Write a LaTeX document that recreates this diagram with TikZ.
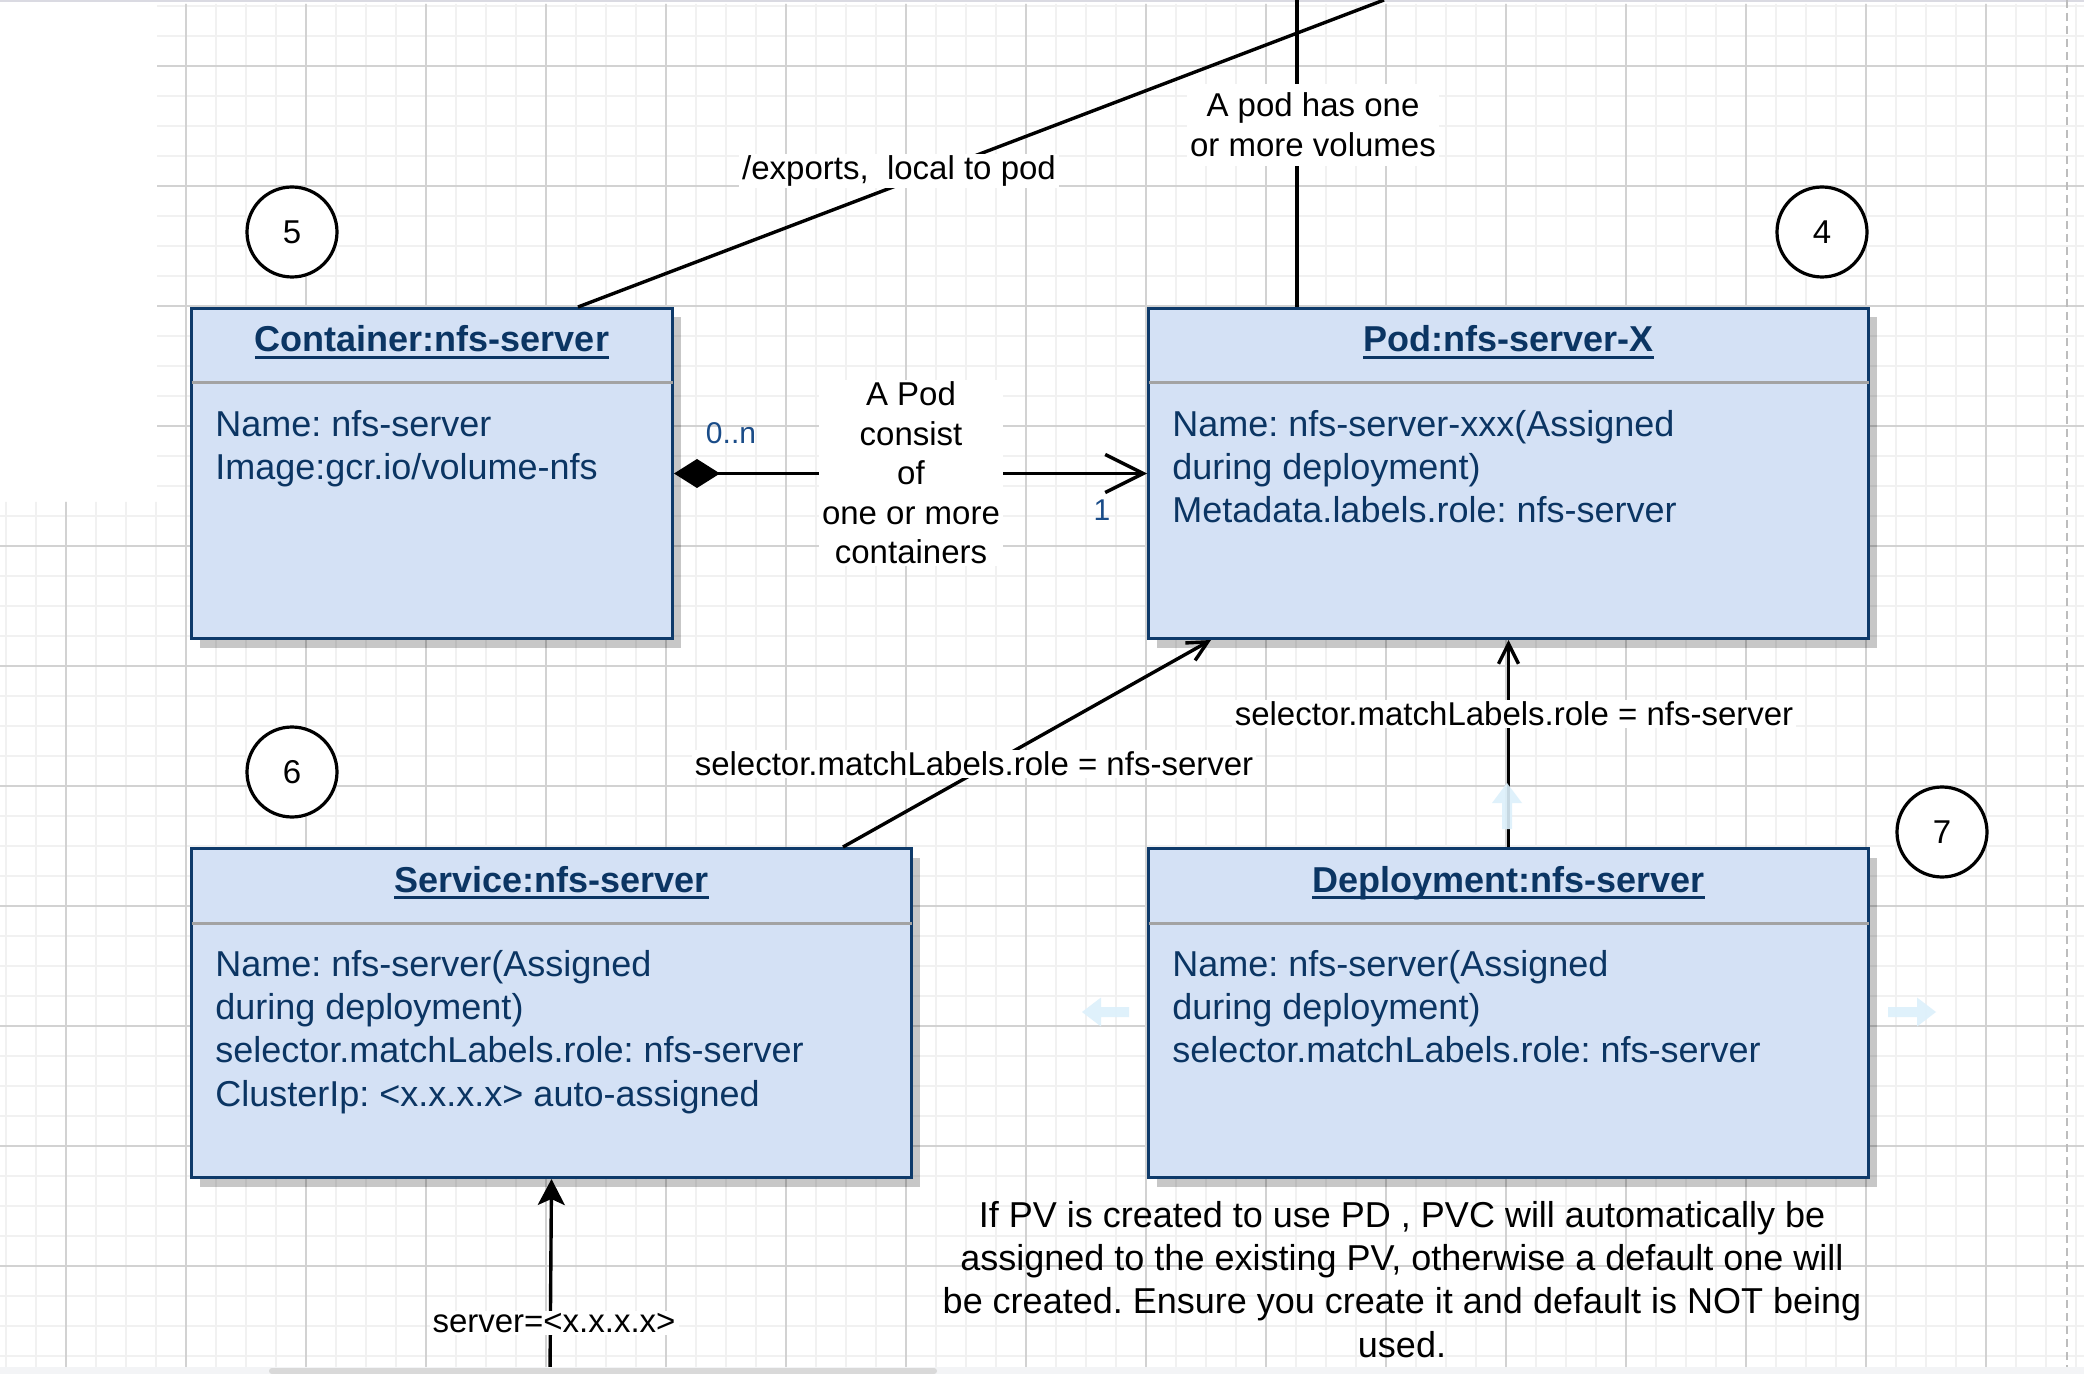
\documentclass[tikz,border=0pt]{standalone}
\usepackage{fontspec}
\setmainfont{Liberation Sans}
\frenchspacing
\usetikzlibrary{arrows.meta,calc,shadows}
\definecolor{boxfill}{HTML}{D4E1F5}
\definecolor{boxline}{HTML}{0E3A6A}
\definecolor{boxtext}{HTML}{0B3563}
\definecolor{sepgray}{HTML}{A3A3A3}
\definecolor{gridminor}{HTML}{F1F1F1}
\definecolor{gridmajor}{HTML}{D2D2D2}
\definecolor{hoverblue}{HTML}{DCF0FB}
\definecolor{mulblue}{HTML}{1A4C88}
\definecolor{topline}{HTML}{DADAE2}
\definecolor{dashgray}{HTML}{BDBDBD}
\definecolor{bandgray}{HTML}{F3F4F6}
\definecolor{bargray}{HTML}{D9D9D9}
\newcommand\titleul[1]{\setbox0\hbox{#1}\rlap{\rule[-3.4pt]{\wd0}{1.4pt}}\box0}
\tikzset{
  gminor/.style={draw=gridminor, line width=1pt},
  gmajor/.style={draw=gridmajor, line width=0.6pt},
  umlbox/.style={draw=boxline, line width=1.5pt, fill=boxfill, inner sep=0pt, anchor=north west,
    general shadow={fill=black, opacity=0.22, shadow xshift=4pt, shadow yshift=-4.5pt}},
  sepline/.style={draw=sepgray, line width=1.5pt, shorten <=0.75pt, shorten >=0.75pt},
  titletext/.style={font=\fontsize{18pt}{21.6pt}\selectfont\bfseries, text=boxtext, inner sep=0pt, anchor=base},
  bodytext/.style={font=\fontsize{18pt}{21.6pt}\selectfont, text=boxtext, inner sep=0pt, anchor=north west, align=left},
  lbl/.style={font=\fontsize{16.5pt}{19.8pt}\selectfont, fill=white, inner xsep=1.5pt, inner ysep=1pt, align=center, text=black},
  mult/.style={font=\fontsize{15pt}{18pt}\selectfont, text=mulblue, inner sep=0pt},
  circ/.style={circle, draw=black, line width=1.6pt, fill=white, minimum size=45pt, inner sep=0pt, font=\fontsize{16.5pt}{19.8pt}\selectfont},
  conn/.style={draw=black, line width=1.7pt},
  smallbarb/.style={-{Straight Barb[length=10pt,width=10pt]}},
  hover/.style={fill=hoverblue, opacity=0.9},
}
\begin{document}
\begin{tikzpicture}[x=0.5pt,y=-0.5pt]
\useasboundingbox (0,0) rectangle (2084,1374);
\fill[white] (0,0) rectangle (2084,1374);
% grid
\begin{scope}
\clip (157,4) rectangle (2084,502) (0,502) rectangle (2084,1367);
\foreach \x in {6,36,...,2076} \draw[gminor] (\x,0) -- (\x,1374);
\foreach \y in {6,36,...,1356} \draw[gminor] (0,\y) -- (2084,\y);
\foreach \x in {66,186,...,1986} \draw[gmajor] (\x,0) -- (\x,1374);
\foreach \y in {66,186,...,1266} \draw[gmajor] (0,\y) -- (2084,\y);
\end{scope}
\draw[topline, line width=1pt] (0,1.5) -- (2084,1.5);
\draw[dashgray, line width=1pt, dash pattern=on 4pt off 2.5pt] (2067,0) -- (2067,1367);

% boxes
\node[umlbox, minimum width=240.5pt, minimum height=165pt] (cont) at (190,307) {};
\node[umlbox, minimum width=360pt, minimum height=165pt] (pod) at (1147,307) {};
\node[umlbox, minimum width=360pt, minimum height=164.5pt] (svc) at (190,847) {};
\node[umlbox, minimum width=360pt, minimum height=164.5pt] (dep) at (1147,847) {};

\foreach \b in {cont,pod,svc,dep}
  \draw[sepline] ($(\b.north west)+(0,76)$) -- ($(\b.north east)+(0,76)$);

\node[titletext] (contT) at ($(cont.north)+(0,45)$) {\titleul{Container:nfs-server}};
\node[titletext] (podT) at ($(pod.north)+(0,45)$) {\titleul{Pod:nfs-server-X}};
\node[titletext] (svcT) at ($(svc.north)+(0,45)$) {\titleul{Service:nfs-server}};
\node[titletext] (depT) at ($(dep.north)+(0,45)$) {\titleul{Deployment:nfs-server}};

\node[bodytext] (contB) at ($(cont.north west)+(25,103)$) {Name: nfs-server\\Image:gcr.io/volume-nfs};
\node[bodytext] (podB) at ($(pod.north west)+(25,103)$) {Name: nfs-server-xxx(Assigned\\during deployment)\\Metadata.labels.role: nfs-server};
\node[bodytext] (svcB) at ($(svc.north west)+(25,103)$) {Name: nfs-server(Assigned\\during deployment)\\selector.matchLabels.role: nfs-server\\ClusterIp: <x.x.x.x> auto-assigned};
\node[bodytext] (depB) at ($(dep.north west)+(25,103)$) {Name: nfs-server(Assigned\\during deployment)\\selector.matchLabels.role: nfs-server};

% circles
\node[circ] (c5) at (292,232) {5};
\node[circ] (c4) at (1822,232) {4};
\node[circ] (c6) at (292,772) {6};
\node[circ] (c7) at (1942,832) {7};

% connectors
\draw[conn, {Diamond[length=23pt,width=14.5pt,fill=black]}-{Straight Barb[length=19pt,width=19pt]}] (cont.east) -- (pod.west);
\node[lbl] (lblPod) at (911,473) {A Pod\\consist\\of\\one or more\\containers};
\node[mult] (m0n) at (731,433) {0..n};
\node[mult] (m1) at (1102,510) {1};

\coordinate (topA) at (1384,0);
\draw[conn] ($(cont.north west)+(388,0)$) -- (topA);
\node[lbl] (lblExp) at (899,171) {/exports,\ \ local to pod};

\coordinate (topB) at (1297,0);
\draw[conn] ($(pod.north west)+(150,0)$) -- (topB);
\node[lbl, inner ysep=4.5pt] (lblVol) at (1313,125) {A pod has one\\or more volumes};

\draw[conn, smallbarb] ($(svc.north west)+(653,0)$) -- ($(pod.south west)+(64,0)$);
\node[lbl] (lblSel1) at (974,764) {selector.matchLabels.role = nfs-server};

\draw[conn, smallbarb] (dep.north) -- (pod.south);
\node[lbl] (lblSel2) at (1514,714) {selector.matchLabels.role = nfs-server};

\coordinate (botA) at (550,1374);
\draw[conn, -{Stealth[length=13pt,width=13.5pt,inset=3pt]}] (botA) -- (svc.south);
\node[lbl] (lblSrv) at (554,1323) {server=<x.x.x.x>};

% note
\node[font=\fontsize{18pt}{21.6pt}\selectfont, align=center, inner sep=0pt, anchor=north] (note) at (1402,1201)
  {If PV is created to use PD , PVC will automatically be\\assigned to the existing PV, otherwise a default one will\\be created. Ensure you create it and default is NOT being\\used.};

% faint hover arrows
\fill[hover] (1082,1012) -- (1101,997.5) -- (1101,1007) -- (1129,1007) -- (1129,1017) -- (1101,1017) -- (1101,1026.5) -- cycle;
\fill[hover] (1936,1012) -- (1917,997.5) -- (1917,1007) -- (1888,1007) -- (1888,1017) -- (1917,1017) -- (1917,1026.5) -- cycle;
\fill[hover] (1507,783) -- (1522,803) -- (1512,803) -- (1512,829) -- (1502,829) -- (1502,803) -- (1492,803) -- cycle;

% bottom band
\fill[bandgray] (0,1367) rectangle (2084,1374);
\fill[bargray, rounded corners=1.5pt] (269,1368) rectangle (937,1374);
\end{tikzpicture}
\end{document}
